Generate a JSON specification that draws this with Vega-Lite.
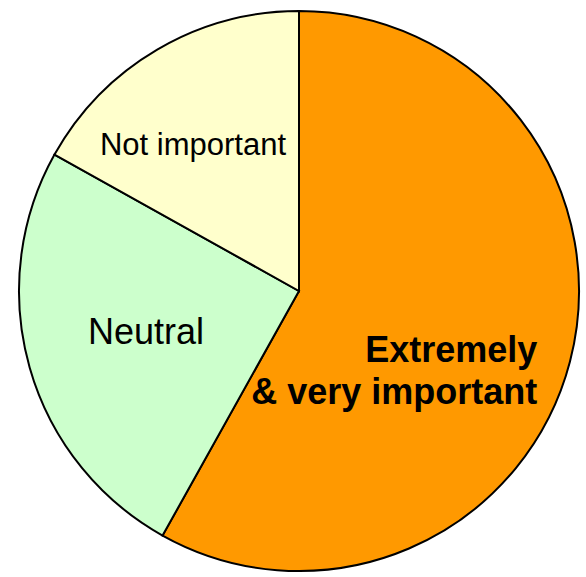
{
  "$schema": "https://vega.github.io/schema/vega-lite/v6.json",
  "width": 574,
  "height": 572,
  "autosize": {"type": "none"},
  "padding": {"left": 12, "top": 5, "right": 0, "bottom": 0},
  "background": "white",
  "config": {"view": {"stroke": null}, "font": "Liberation Sans"},
  "data": {
    "values": [
      {"category": "Extremely\n& very important", "value": 58.1},
      {"category": "Neutral", "value": 25.0},
      {"category": "Not important", "value": 16.9}
    ]
  },
  "encoding": {
    "theta": {"field": "value", "type": "quantitative", "stack": true},
    "order": {"field": "category", "type": "nominal", "sort": "ascending"}
  },
  "layer": [
    {
      "mark": {"type": "arc", "outerRadius": 280, "stroke": "black", "strokeWidth": 2},
      "encoding": {
        "color": {
          "field": "category",
          "type": "nominal",
          "scale": {
            "domain": ["Extremely\n& very important", "Neutral", "Not important"],
            "range": ["#FF9900", "#CCFFCC", "#FFFFCC"]
          },
          "legend": null
        }
      }
    },
    {
      "mark": {"type": "text", "fontSize": 31, "color": "black", "baseline": "middle", "align": "center", "dx": -25, "dy": -7},
      "encoding": {
        "radius": {"value": 160},
        "text": {"condition": {"test": "datum.category === 'Not important'", "field": "category"}, "value": ""}
      }
    },
    {
      "mark": {"type": "text", "fontSize": 36, "color": "black", "baseline": "middle", "align": "center", "dx": 1, "dy": -2},
      "encoding": {
        "radius": {"value": 160},
        "text": {"condition": {"test": "datum.category === 'Neutral'", "field": "category"}, "value": ""}
      }
    },
    {
      "mark": {"type": "text", "fontSize": 36, "fontWeight": "bold", "color": "black", "baseline": "middle", "align": "right", "lineBreak": "\n", "lineHeight": 42, "dx": 6, "dy": 0},
      "encoding": {
        "radius": {"value": 240},
        "text": {"condition": {"test": "indexof(datum.category, 'Extremely') === 0", "field": "category"}, "value": ""}
      }
    }
  ]
}
